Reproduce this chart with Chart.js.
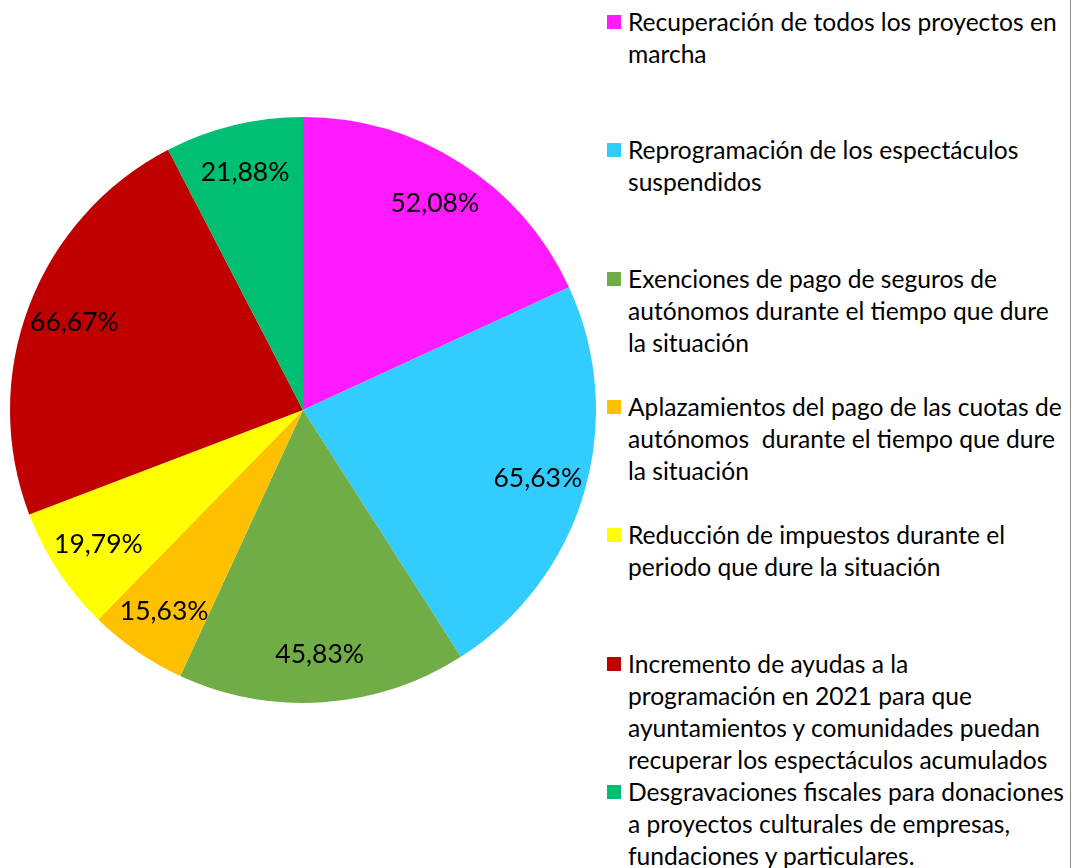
<!DOCTYPE html>
<html>
<head>
<meta charset="utf-8">
<script src="https://cdn.jsdelivr.net/npm/chart.js@4"></script>
<style>
  html, body { margin: 0; padding: 0; background: #fff; }
  #wrap { position: relative; width: 1075px; height: 868px; overflow: hidden; }
  #pieBox { position: absolute; left: 0; top: 0; width: 606px; height: 868px; }
  #legend { position: absolute; left: 0; top: 0; }
  .item { position: absolute; left: 607px; font-family: Lato, sans-serif; font-size: 24.6px; line-height: 32px; color: #000; white-space: pre; }
  .item .box { position: absolute; left: 0; top: 9px; width: 14px; height: 14px; }
  .item .txt { position: absolute; left: 21px; top: 0; }
  #edge { position: absolute; left: 1070px; top: 0; width: 1px; height: 868px; background: #8c8c8c; }
</style>
</head>
<body>
<div id="wrap">
  <div id="pieBox"><canvas id="pieChart"></canvas></div>
  <div id="legend"></div>
  <div id="edge"></div>
</div>
<script>
  // legend text, line breaks as in the original
  const categories = [
    ['Recuperación de todos los proyectos en', 'marcha'],
    ['Reprogramación de los espectáculos', 'suspendidos'],
    ['Exenciones de pago de seguros de', 'autónomos durante el tiempo que dure', 'la situación'],
    ['Aplazamientos del pago de las cuotas de', 'autónomos  durante el tiempo que dure', 'la situación'],
    ['Reducción de impuestos durante el', 'periodo que dure la situación'],
    ['Incremento de ayudas a la', 'programación en 2021 para que', 'ayuntamientos y comunidades puedan', 'recuperar los espectáculos acumulados'],
    ['Desgravaciones fiscales para donaciones', 'a proyectos culturales de empresas,', 'fundaciones y particulares.'],
  ];
  const values = [52.08, 65.63, 45.83, 15.63, 19.79, 66.67, 21.88];
  const sliceColors = ['#FF1AFF', '#33CCFF', '#70AD47', '#FFC000', '#FFFF00', '#C00000', '#00BF72'];

  // percent labels inside the slices
  const sliceLabels = {
    id: 'sliceLabels',
    afterDatasetsDraw(chart) {
      const ctx = chart.ctx;
      const meta = chart.getDatasetMeta(0);
      ctx.save();
      ctx.font = '26.5px Lato, sans-serif';
      ctx.fillStyle = '#000';
      ctx.textAlign = 'center';
      ctx.textBaseline = 'middle';
      meta.data.forEach((arc, i) => {
        const p = arc.getProps(['x', 'y', 'startAngle', 'endAngle', 'outerRadius'], true);
        const mid = (p.startAngle + p.endAngle) / 2;
        const r = p.outerRadius * 0.835;
        const txt = values[i].toFixed(2).replace('.', ',') + '%';
        ctx.fillText(txt, p.x + Math.cos(mid) * r, p.y + Math.sin(mid) * r);
      });
      ctx.restore();
    },
  };

  new Chart(document.getElementById('pieChart'), {
    type: 'pie',
    data: {
      labels: categories.map((c) => c.join(' ')),
      datasets: [
        {
          data: values,
          backgroundColor: sliceColors,
          borderWidth: 0,
        },
      ],
    },
    options: {
      responsive: true,
      maintainAspectRatio: false,
      animation: false,
      layout: { padding: { left: 10, right: 10, top: 117, bottom: 165 } },
      plugins: { legend: { display: false }, tooltip: { enabled: false } },
    },
    plugins: [sliceLabels],
  });

  const legend = document.getElementById('legend');
  categories.forEach((lines, i) => {
    const item = document.createElement('div');
    item.className = 'item';
    item.style.top = Math.round(6 + i * 128.3) + 'px';
    const box = document.createElement('div');
    box.className = 'box';
    box.style.background = sliceColors[i];
    const txt = document.createElement('div');
    txt.className = 'txt';
    txt.textContent = lines.join('\n');
    item.appendChild(box);
    item.appendChild(txt);
    legend.appendChild(item);
  });
</script>
</body>
</html>
